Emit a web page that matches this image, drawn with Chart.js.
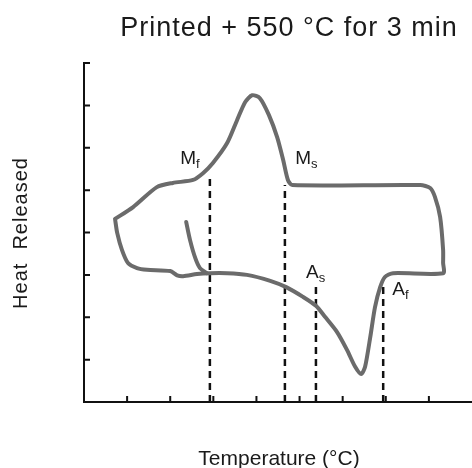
<!DOCTYPE html>
<html>
<head>
<meta charset="utf-8">
<script src="https://cdn.jsdelivr.net/npm/chart.js@4.4.1/dist/chart.umd.min.js"></script>
<style>
  body { margin: 0; background: #fff; }
  canvas { display: block; }
</style>
</head>
<body>
<canvas id="dsc" width="472" height="468"></canvas>
<script>
// DSC loop: upper (cooling) branch, right side, lower (heating) branch, back to start
const loopTemp = [0.72, 1.14, 1.69, 2.06, 2.53, 2.76, 2.99, 3.32, 3.55, 3.74, 3.90, 4.08, 4.29, 4.48, 4.62, 4.73, 4.83,
                  7.80, 8.03, 8.14, 8.26, 8.33, 8.33, 8.33,
                  7.17, 6.98, 6.87, 6.75, 6.64, 6.52, 6.43, 6.29, 6.10, 5.87, 5.59, 5.38, 5.08, 4.69, 4.32, 3.78,
                  3.32, 2.92, 2.62, 2.30, 2.16, 2.00, 1.46, 1.23, 1.02, 0.88, 0.77, 0.72];
const loopHeat = [4.32, 4.60, 5.07, 5.17, 5.24, 5.40, 5.64, 6.11, 6.65, 7.08, 7.24, 7.17, 6.77, 6.25, 5.71, 5.24, 5.12,
                  5.12, 5.05, 4.84, 4.37, 3.59, 3.28, 3.04,
                  3.04, 2.95, 2.71, 2.24, 1.53, 0.83, 0.66, 0.83, 1.23, 1.65, 2.01, 2.27, 2.48, 2.71, 2.86, 3.00,
                  3.04, 3.04, 3.02, 2.97, 2.99, 3.09, 3.12, 3.16, 3.28, 3.59, 3.99, 4.32];

// short start-up tail joining the lower branch
const tailTemp = [2.37, 2.46, 2.58, 2.69, 2.85];
const tailHeat = [4.25, 3.82, 3.40, 3.16, 3.04];

// transformation temperatures (x) and top end of each marker line (y)
const markNames = ["M|f", "M|s", "A|s", "A|f"];
const markTemp = [2.92, 4.66, 5.38, 6.94];
const markTop = [5.31, 5.12, 2.83, 2.76];
const labelTemp = [2.23, 4.90, 5.15, 7.15];
const labelHeat = [5.62, 5.62, 2.93, 2.53];

const xTicks = [1, 2, 3, 4, 5, 6, 7, 8];
const yTicks = [1, 2, 3, 4, 5, 6, 7, 8];

const FONT = '"Liberation Sans", Arial, sans-serif';

function toPoints(xs, ys) {
  return xs.map((x, i) => ({ x: x, y: ys[i] }));
}

const datasets = [
  {
    data: toPoints(loopTemp, loopHeat),
    showLine: true,
    borderColor: "#6b6b6b",
    borderWidth: 4,
    pointRadius: 0,
    tension: 0.25,
    borderJoinStyle: "round",
    borderCapStyle: "round"
  },
  {
    data: toPoints(tailTemp, tailHeat),
    showLine: true,
    borderColor: "#6b6b6b",
    borderWidth: 4,
    pointRadius: 0,
    tension: 0.3,
    borderCapStyle: "round"
  }
];

markTemp.forEach((t, i) => {
  datasets.push({
    data: [{ x: t, y: 0 }, { x: t, y: markTop[i] }],
    showLine: true,
    borderColor: "#111",
    borderWidth: 2.5,
    borderDash: [7, 5],
    pointRadius: 0
  });
});

// inward tick marks on both axes
const innerTicks = {
  id: "innerTicks",
  afterDraw(chart) {
    const ctx = chart.ctx;
    const xs = chart.scales.x, ys = chart.scales.y;
    const area = chart.chartArea;
    ctx.save();
    ctx.strokeStyle = "#111";
    ctx.lineWidth = 2;
    ctx.beginPath();
    xTicks.forEach(v => {
      const px = xs.getPixelForValue(v);
      ctx.moveTo(px, area.bottom);
      ctx.lineTo(px, area.bottom - 6);
    });
    yTicks.forEach(v => {
      const py = ys.getPixelForValue(v);
      ctx.moveTo(area.left, py);
      ctx.lineTo(area.left + 6, py);
    });
    ctx.stroke();
    ctx.restore();
  }
};

// titles and M/A labels with subscripts
const texts = {
  id: "texts",
  afterDraw(chart) {
    const ctx = chart.ctx;
    const xs = chart.scales.x, ys = chart.scales.y;
    ctx.save();
    ctx.fillStyle = "#1a1a1a";
    ctx.textBaseline = "alphabetic";

    ctx.font = "27px " + FONT;
    ctx.letterSpacing = "1px";
    ctx.textAlign = "center";
    ctx.fillText("Printed + 550 °C for 3 min", 289, 36);

    ctx.font = "21px " + FONT;
    ctx.letterSpacing = "0px";
    ctx.fillText("Temperature (°C)", 279, 465);

    ctx.save();
    ctx.translate(27, 233);
    ctx.rotate(-Math.PI / 2);
    ctx.font = "20px " + FONT;
    ctx.letterSpacing = "1px";
    ctx.fillText("Heat  Released", 0, 0);
    ctx.restore();

    ctx.letterSpacing = "0px";
    ctx.textAlign = "left";
    markNames.forEach((name, i) => {
      const [main, sub] = name.split("|");
      const px = xs.getPixelForValue(labelTemp[i]);
      const py = ys.getPixelForValue(labelHeat[i]);
      ctx.font = "19px " + FONT;
      ctx.fillText(main, px, py);
      const w = ctx.measureText(main).width;
      ctx.font = "13px " + FONT;
      ctx.fillText(sub, px + w, py + 4);
    });
    ctx.restore();
  }
};

new Chart(document.getElementById("dsc"), {
  type: "scatter",
  data: { datasets: datasets },
  options: {
    responsive: false,
    animation: false,
    layout: { padding: { left: 84, top: 63, right: 0, bottom: 66 } },
    plugins: { legend: { display: false }, tooltip: { enabled: false }, title: { display: false } },
    scales: {
      x: {
        type: "linear", min: 0, max: 9,
        ticks: { display: false },
        grid: { display: false, drawTicks: false },
        border: { display: true, color: "#111", width: 2 }
      },
      y: {
        type: "linear", min: 0, max: 8,
        ticks: { display: false },
        grid: { display: false, drawTicks: false },
        border: { display: true, color: "#111", width: 2 }
      }
    }
  },
  plugins: [innerTicks, texts]
});
</script>
</body>
</html>
